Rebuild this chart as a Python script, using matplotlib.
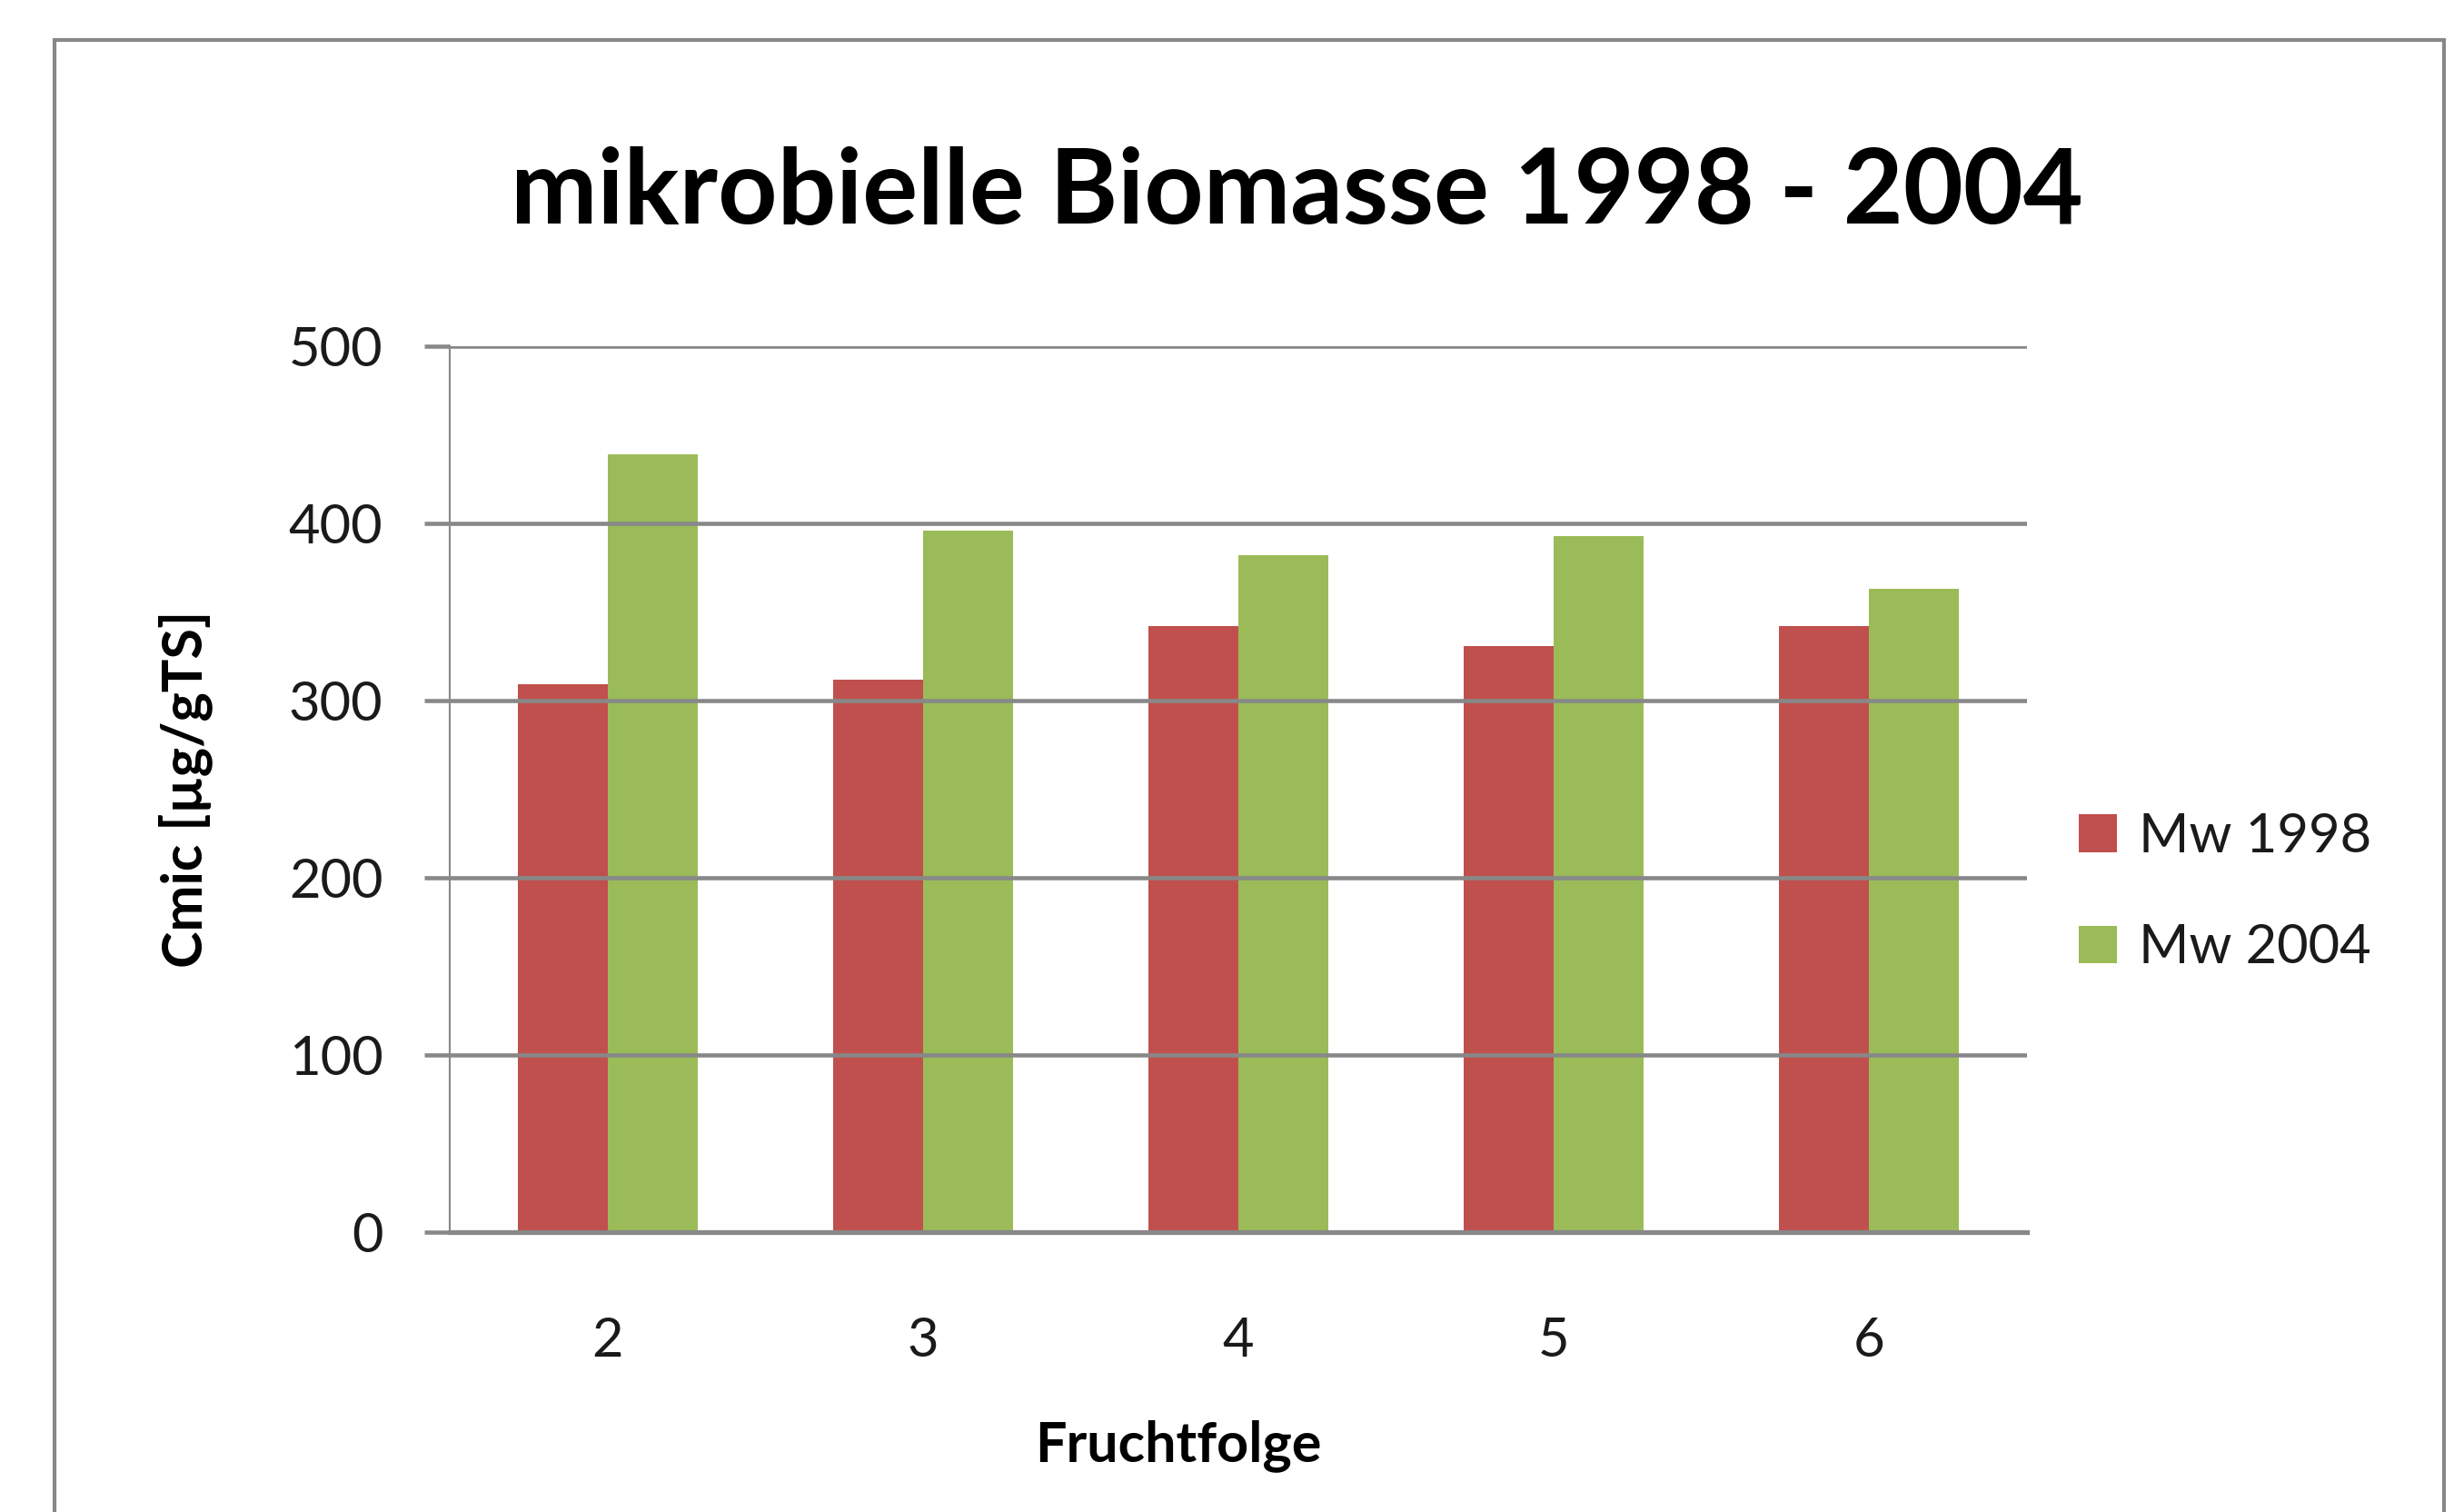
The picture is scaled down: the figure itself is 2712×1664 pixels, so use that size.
import matplotlib
matplotlib.use("Agg")
import matplotlib.pyplot as plt
import matplotlib.patches as mpatches
import numpy as np

categories = ["2", "3", "4", "5", "6"]
mw_1998 = [309, 312, 342, 331, 342]
mw_2004 = [439, 396, 382, 393, 363]
series_names = ["Mw 1998", "Mw 2004"]
yticks = [0, 100, 200, 300, 400, 500]

title = "mikrobielle Biomasse 1998 - 2004"
xlabel = "Fruchtfolge"
ylabel = "Cmic [µg/gTS]"

red = "#C0504D"
green = "#9BBB59"
grid_gray = "#888888"

plt.rcParams['font.family'] = ['Lato', 'DejaVu Sans']

W, H = 2712, 1664
dpi = 100
fig = plt.figure(figsize=(W / dpi, H / dpi), dpi=dpi)
fig.patch.set_facecolor("white")

# outer chart frame
frame = mpatches.Rectangle((60 / W, -0.02), (2690 - 60) / W, 1 - 44 / H + 0.02,
                           transform=fig.transFigure, fill=False,
                           edgecolor=grid_gray, linewidth=3, clip_on=False)
fig.patches.append(frame)

ax = fig.add_axes([495 / W, 1 - 1356 / H, (2231 - 495) / W, (1356 - 381) / H])
x = np.arange(len(categories))
bw = 0.285
b1 = ax.bar(x - bw / 2, mw_1998, width=bw, color=red, label=series_names[0], zorder=2)
b2 = ax.bar(x + bw / 2, mw_2004, width=bw, color=green, label=series_names[1], zorder=2)

ax.set_xlim(-0.5, len(categories) - 0.5)
ax.set_ylim(0, 500)
ax.set_yticks(yticks)
ax.set_xticks(x)
ax.set_xticklabels(categories)

# gridlines drawn on top of bars, as in reference
for t in yticks[1:]:
    ax.axhline(t, color=grid_gray, linewidth=3.3, zorder=3)

for s in ["top", "right"]:
    ax.spines[s].set_visible(False)
ax.spines["left"].set_color(grid_gray)
ax.spines["left"].set_linewidth(1.5)
ax.spines["bottom"].set_color(grid_gray)
ax.spines["bottom"].set_linewidth(3.8)
ax.spines["bottom"].set_zorder(4)

ax.tick_params(axis="y", direction="out", length=20, width=3.3, color=grid_gray,
               labelsize=43, labelcolor="#1a1a1a", pad=33)
ax.tick_params(axis="x", length=0, labelsize=43, labelcolor="#1a1a1a", pad=67)

ax.set_xlabel(xlabel, fontsize=44, fontweight="bold")
ax.xaxis.set_label_coords(0.462, -0.212)
ax.set_ylabel(ylabel, fontsize=44, fontweight="bold", labelpad=60)

fig.text(1427 / W, 1 - 212 / H, title, fontsize=82, fontweight="bold",
         ha="center", va="center", color="black")

leg = fig.legend(handles=[b1, b2], labels=series_names, loc="center left",
                 bbox_to_anchor=(2288 / W, 1 - 982 / H), frameon=False,
                 fontsize=43, handlelength=0.7, handleheight=0.7,
                 handletextpad=0.4, labelspacing=1.15, borderpad=0,
                 borderaxespad=0)
for t in leg.get_texts():
    t.set_color("#1a1a1a")

fig.savefig("out.png", dpi=dpi, facecolor="white")
